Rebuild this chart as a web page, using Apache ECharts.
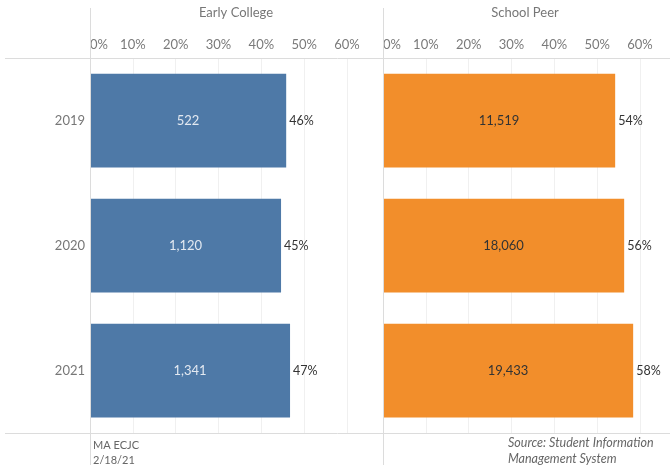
<!DOCTYPE html>
<html>
<head>
<meta charset="utf-8">
<script src="https://cdn.jsdelivr.net/npm/echarts@6/dist/echarts.min.js"></script>
<style>html,body{margin:0;padding:0;background:#fff}#c{width:670px;height:465px}</style>
</head>
<body>
<div id="c"></div>
<script>
var years = ['2019', '2020', '2021'];
var ecPct = [45.8, 44.6, 46.7];
var ecCount = ['522', '1,120', '1,341'];
var peerPct = [54.2, 56.3, 58.4];
var peerCount = ['11,519', '18,060', '19,433'];
var tickLabels = ['0%', '10%', '20%', '30%', '40%', '50%', '60%'];

var FONT = 'Lato, "Open Sans", sans-serif';
var chart = echarts.init(document.getElementById('c'));

function xAx(gi, max) {
  return {
    gridIndex: gi, type: 'value', position: 'top', min: 0, max: max, interval: 10,
    axisLine: {show: false}, axisTick: {show: false},
    splitLine: {show: true, lineStyle: {color: '#f0f0f0', width: 1}},
    axisLabel: {
      show: true, margin: 7, color: '#7a7a7a', fontSize: 13, fontFamily: FONT,
      showMaxLabel: false,
      formatter: function (v) { var i = Math.round(v / 10); return tickLabels[i] || ''; },
      alignMinLabel: 'left'
    }
  };
}
function yAx(gi, show) {
  return {
    gridIndex: gi, type: 'category', data: years, inverse: true,
    axisLine: {show: false}, axisTick: {show: false}, splitLine: {show: false},
    axisLabel: {show: show, color: '#777', fontSize: 13, fontFamily: FONT, margin: 5}
  };
}
function barS(gi, vals, counts, color, inColor) {
  return [{
    type: 'bar', xAxisIndex: gi, yAxisIndex: gi, data: vals, barWidth: '75%',
    itemStyle: {color: color},
    label: {show: true, position: 'inside', color: inColor, fontSize: 13, fontFamily: FONT,
      formatter: function (p) { return counts[p.dataIndex]; }},
    silent: true
  }, {
    type: 'bar', xAxisIndex: gi, yAxisIndex: gi, data: vals, barWidth: '75%', barGap: '-100%',
    itemStyle: {color: 'rgba(0,0,0,0)'},
    label: {show: true, position: 'right', distance: 3, color: '#333', fontSize: 12.5, fontFamily: FONT,
      formatter: function (p) { return Math.round(p.value) + '%'; }},
    silent: true, z: 3
  }];
}

chart.setOption({
  animation: false,
  textStyle: {fontFamily: FONT},
  grid: [
    {left: 90, top: 58, width: 293, height: 375},
    {left: 383, top: 58, width: 287, height: 375}
  ],
  xAxis: [xAx(0, 68.4), xAx(1, 67)],
  yAxis: [yAx(0, true), yAx(1, false)],
  series: [].concat(
    barS(0, ecPct, ecCount, '#4e79a7', '#e3e9f1'),
    barS(1, peerPct, peerCount, '#f28e2b', '#333')
  ),
  graphic: [
    {type: 'line', shape: {x1: 5, y1: 58.5, x2: 670, y2: 58.5}, style: {stroke: '#dcdcdc', lineWidth: 1}, z: 10},
    {type: 'line', shape: {x1: 5, y1: 433.5, x2: 670, y2: 433.5}, style: {stroke: '#dcdcdc', lineWidth: 1}, z: 10},
    {type: 'line', shape: {x1: 90.5, y1: 8, x2: 90.5, y2: 465}, style: {stroke: '#dcdcdc', lineWidth: 1}, z: 10},
    {type: 'line', shape: {x1: 383.5, y1: 8, x2: 383.5, y2: 465}, style: {stroke: '#dcdcdc', lineWidth: 1}, z: 10},
    {type: 'text', x: 236, y: 13, style: {text: 'Early College', fill: '#777', fontSize: 13, fontFamily: FONT, align: 'center', verticalAlign: 'middle'}},
    {type: 'text', x: 525, y: 13, style: {text: 'School Peer', fill: '#777', fontSize: 13, fontFamily: FONT, align: 'center', verticalAlign: 'middle'}},
    {type: 'text', x: 93, y: 445, style: {text: 'MA ECJC', fill: '#666', fontSize: 11, fontFamily: FONT, align: 'left', verticalAlign: 'middle'}},
    {type: 'text', x: 93, y: 460, style: {text: '2/18/21', fill: '#666', fontSize: 11, fontFamily: FONT, align: 'left', verticalAlign: 'middle'}},
    {type: 'text', x: 508, y: 443, style: {text: 'Source: Student Information', fill: '#666', fontSize: 12.5, fontStyle: 'italic', fontFamily: FONT, align: 'left', verticalAlign: 'middle'}},
    {type: 'text', x: 508, y: 459, style: {text: 'Management System', fill: '#666', fontSize: 12.5, fontStyle: 'italic', fontFamily: FONT, align: 'left', verticalAlign: 'middle'}}
  ]
});
</script>
</body>
</html>
